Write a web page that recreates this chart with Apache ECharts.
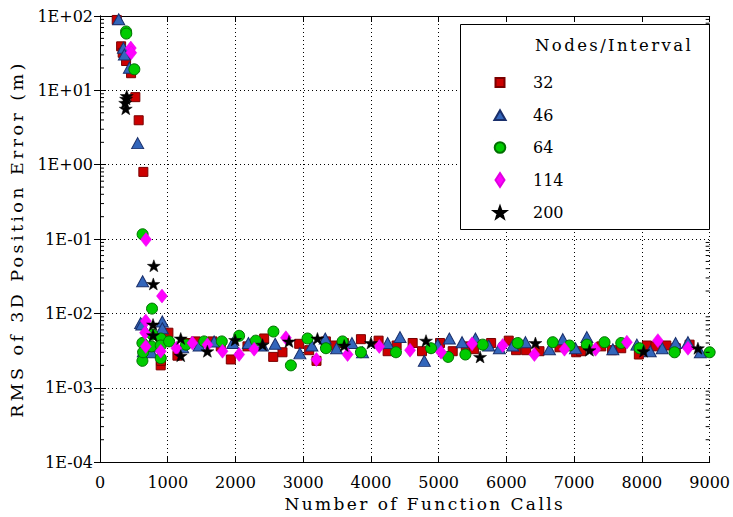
<!DOCTYPE html>
<html><head><meta charset="utf-8">
<script src="https://cdn.jsdelivr.net/npm/echarts@6/dist/echarts.min.js"></script>
<style>
html,body{margin:0;padding:0;background:#fff;}
#c{width:733px;height:517px;}
#c text[style*="17.5px"]{letter-spacing:3.4px;}
#c text[style*="17px"]{letter-spacing:2.4px;}
#c text[style*="16.5px"]{letter-spacing:2.4px;}
</style></head><body><div id="c"></div>
<script>
// ---------- data ----------
const xTicks = [0, 1000, 2000, 3000, 4000, 5000, 6000, 7000, 8000, 9000];
const xTickLabels = ['0', '1000', '2000', '3000', '4000', '5000', '6000', '7000', '8000', '9000'];
const yTickLabels = ['1E-04', '1E-03', '1E-02', '1E-01', '1E+00', '1E+01', '1E+02'];
const seriesNames = ['32', '46', '64', '114', '200'];
const legendTitle = 'Nodes/Interval';
const xAxisTitle = 'Number of Function Calls';
const yAxisTitle = 'RMS of 3D Position Error (m)';

const nodes32 = [
  [247, 88.5], [312, 39.1], [335, 32], [385, 24.8], [459, 17.0], [522, 8.1], [571, 3.96], [640, 0.80],
  [896, 0.0020], [900, 0.0023], [1010, 0.0055], [1143, 0.0027], [1290, 0.0040], [1414, 0.0042],
  [1537, 0.0041], [1660, 0.0042], [1783, 0.0036], [1931, 0.0024], [2177, 0.0036], [2424, 0.0046],
  [2557, 0.0026], [2694, 0.0030], [2941, 0.0039], [3088, 0.0032], [3196, 0.0023], [3335, 0.0042],
  [3458, 0.0037], [3600, 0.0040], [3852, 0.0045], [4113, 0.0043], [4246, 0.0031], [4379, 0.0037],
  [4616, 0.0040], [4754, 0.0031], [5020, 0.0040], [5207, 0.0031], [5400, 0.0036], [5520, 0.0033],
  [5774, 0.0040], [6034, 0.0043], [6143, 0.0032], [6291, 0.0032], [6488, 0.0031], [6783, 0.0035],
  [7030, 0.0030], [7103, 0.0031], [7400, 0.0036], [7560, 0.0032], [7695, 0.0034], [7955, 0.0028],
  [8074, 0.0037], [8200, 0.0036], [8360, 0.0037], [8500, 0.0034], [8704, 0.0038]
];
const nodes46 = [
  [276, 90.4], [346, 37.3], [360, 30.4], [434, 20.2], [556, 1.95], [629, 0.027],
  [600, 0.0074], [616, 0.0071], [920, 0.0078], [920, 0.0063], [749, 0.0036], [640, 0.0031], [760, 0.0030],
  [1220, 0.0035], [1463, 0.0037], [1685, 0.0042], [1960, 0.0040], [2191, 0.0040], [2399, 0.0037],
  [2586, 0.0039], [2951, 0.0029], [3128, 0.0037], [3325, 0.0046], [3492, 0.0034], [3719, 0.0040],
  [3876, 0.0030], [4246, 0.0040], [4429, 0.0048], [4788, 0.0023], [4985, 0.0038], [5157, 0.0046],
  [5345, 0.0041], [5542, 0.0046], [5738, 0.0037], [5896, 0.0034], [6093, 0.0037], [6281, 0.0041],
  [6635, 0.0033], [6832, 0.0045], [7019, 0.0034], [7187, 0.0048], [7571, 0.0033], [7926, 0.0038],
  [8123, 0.0031], [8300, 0.0034], [8497, 0.0040], [8680, 0.0041], [8863, 0.0030]
];
const nodes64 = [
  [385, 61.9], [388, 58], [507, 19.2], [629, 0.116], [768, 0.0116],
  [626, 0.0040], [626, 0.0023], [636, 0.0030], [773, 0.0052], [760, 0.0036], [897, 0.0046],
  [897, 0.0037], [897, 0.0025], [1020, 0.0042], [1270, 0.0038], [1537, 0.0042], [1798, 0.0042],
  [2054, 0.0050], [2300, 0.0043], [2560, 0.0057], [2818, 0.0020], [3064, 0.0046], [3335, 0.0034],
  [3581, 0.0042], [3852, 0.0030], [4369, 0.0030], [4887, 0.0034], [5140, 0.0026], [5394, 0.0028],
  [5650, 0.0038], [6167, 0.0040], [6684, 0.0041], [6931, 0.0037], [7187, 0.0038], [7448, 0.0041],
  [7695, 0.0040], [7965, 0.0034], [8482, 0.0030], [9000, 0.0030]
];
const nodes114 = [
  [455, 37], [461, 32], [679, 0.0984], [915, 0.0171], [675, 0.0079], [665, 0.0055], [675, 0.0036],
  [897, 0.0031], [1128, 0.0034], [1364, 0.0040], [1586, 0.0038], [1808, 0.0031], [2054, 0.0028],
  [2276, 0.0033], [2744, 0.0047], [3195, 0.0024], [3655, 0.0028], [4123, 0.0036], [4577, 0.0032],
  [5035, 0.0030], [5493, 0.0039], [5945, 0.0037], [6413, 0.0028], [6857, 0.0033], [7315, 0.0033],
  [7778, 0.0041], [8236, 0.0043], [8680, 0.0034]
];
const nodes200 = [
  [395, 8.4], [385, 7.7], [372, 6.8], [380, 5.67], [795, 0.0437], [787, 0.0249], [783, 0.0071],
  [783, 0.0051], [1192, 0.0046], [1192, 0.0027], [1585, 0.0031], [1995, 0.0044], [2400, 0.0038],
  [2790, 0.0042], [3210, 0.0046], [3605, 0.0037], [4000, 0.0040], [4813, 0.0043], [5611, 0.0026],
  [6428, 0.0040], [7226, 0.0032], [8024, 0.0031], [8827, 0.0034]
];
// minor log ticks: multipliers within each decade
const minorMultipliers = [2, 3, 4, 5, 6, 7, 8, 9];
const minorDecades = [1e-4, 1e-3, 1e-2, 1e-1, 1, 10];

// ---------- styling ----------
const FONT = 'DejaVu Serif';
const xMin = xTicks[0], xMax = xTicks[xTicks.length - 1];
// legend icons: tiny corner segments pad the bounding box to 14x14
const PAD = 'M0,0L0.01,0M14,14L13.99,14';
const squareIcon = 'path://' + PAD + 'M2.5,2.5L11.5,2.5L11.5,11.5L2.5,11.5Z';
const triIcon = 'path://' + PAD + 'M7,2.2L12.6,12L1.4,12Z';
const circIcon = 'path://' + PAD + 'M1.7,7A5.3,5.3 0 1 1 12.3,7A5.3,5.3 0 1 1 1.7,7Z';
const diamIcon = 'path://M7,0L11.5,7L7,14L2.5,7Z';
const starPts = 'M7,1L8.53,5.4L13.18,5.49L9.47,8.3L10.82,12.76L7,10.1L3.18,12.76L4.53,8.3L0.82,5.49L5.47,5.4Z';
const starIcon = 'path://' + PAD + starPts;
const starSymbol = 'path://' + starPts;

const minorLeft = [], minorRight = [];
minorDecades.forEach(d => minorMultipliers.forEach(m => {
  minorLeft.push([xMin, m * d]);
  minorRight.push([xMax, m * d]);
}));

const chart = echarts.init(document.getElementById('c'), null, {renderer: 'svg', width: 733, height: 517});

function yLabel(v) {
  const e = Math.round(Math.log10(v));
  return yTickLabels[e + 4] || '';
}
function xLabel(v) {
  const i = xTicks.indexOf(Math.round(v));
  return i >= 0 ? xTickLabels[i] : '';
}

const axisLineStyle = {lineStyle: {color: '#000', width: 1}};
const gridLine = {show: true, lineStyle: {color: '#000', width: 1, type: [1, 3]}};
const tickStyle = {inside: true, length: 6, lineStyle: {color: '#000'}};
const minorTickSeries = (name, data, offset) => ({
  name: name, type: 'scatter', data: data, symbol: 'rect', symbolSize: [4, 1],
  symbolOffset: [offset, 0], clip: false, silent: true, z: 3,
  itemStyle: {color: '#000', opacity: 1}, emphasis: {disabled: true}
});

chart.setOption({
  animation: false,
  backgroundColor: '#fff',
  grid: {left: 100, right: 21, top: 16, bottom: 48, containLabel: false},
  xAxis: [{
    type: 'value', min: xMin, max: xMax, interval: 1000, position: 'bottom',
    axisLine: axisLineStyle, axisTick: tickStyle,
    axisLabel: {color: '#000', fontFamily: FONT, fontSize: 16, margin: 12, formatter: xLabel},
    splitLine: gridLine,
    name: xAxisTitle, nameLocation: 'middle', nameGap: 28,
    nameTextStyle: {color: '#000', fontFamily: FONT, fontSize: 17, padding: [0, 0, 0, 40]}
  }, {
    type: 'value', min: xMin, max: xMax, interval: 1000, position: 'top',
    axisLine: axisLineStyle, axisTick: tickStyle,
    axisLabel: {show: false}, splitLine: {show: false}
  }],
  yAxis: [{
    type: 'log', logBase: 10, min: 1e-4, max: 1e2, splitNumber: 6, position: 'left',
    axisLine: axisLineStyle, axisTick: tickStyle,
    axisLabel: {color: '#000', fontFamily: FONT, fontSize: 16, margin: 7, formatter: yLabel},
    splitLine: gridLine,
    name: yAxisTitle, nameLocation: 'middle', nameGap: 64,
    nameTextStyle: {color: '#000', fontFamily: FONT, fontSize: 17.5}
  }, {
    type: 'log', logBase: 10, min: 1e-4, max: 1e2, splitNumber: 6, position: 'right',
    axisLine: axisLineStyle, axisTick: tickStyle,
    axisLabel: {show: false}, splitLine: {show: false}
  }],
  legend: {
    orient: 'vertical', left: 487, top: 69.5, itemWidth: 56, itemHeight: 14, itemGap: 16.5,
    selectedMode: false, z: 20, symbolKeepAspect: true,
    textStyle: {color: '#000', fontFamily: FONT, fontSize: 16, lineHeight: 16},
    data: [
      {name: seriesNames[0], icon: squareIcon},
      {name: seriesNames[1], icon: triIcon},
      {name: seriesNames[2], icon: circIcon},
      {name: seriesNames[3], icon: diamIcon},
      {name: seriesNames[4], icon: starIcon}
    ]
  },
  graphic: [
    {type: 'rect', z: 15, silent: true,
     shape: {x: 460.5, y: 24.5, width: 249, height: 205},
     style: {fill: '#fff', stroke: '#000', lineWidth: 1}},
    {type: 'text', z: 16, silent: true, left: 535, top: 37,
     style: {text: legendTitle, fontFamily: FONT, fontSize: 16.5, fill: '#000'}}
  ],
  series: [
    {name: seriesNames[0], type: 'scatter', data: nodes32, symbol: 'rect', symbolSize: 9,
     itemStyle: {color: '#CC0000', borderColor: '#7A0000', borderWidth: 1, opacity: 1}, emphasis: {disabled: true}},
    {name: seriesNames[1], type: 'scatter', data: nodes46, symbol: 'triangle', symbolSize: [12, 11],
     itemStyle: {color: '#3366BB', borderColor: '#1A2F6B', borderWidth: 1, opacity: 1}, emphasis: {disabled: true}},
    {name: seriesNames[2], type: 'scatter', data: nodes64, symbol: 'circle', symbolSize: 11,
     itemStyle: {color: '#00CC00', borderColor: '#007000', borderWidth: 1, opacity: 1}, emphasis: {disabled: true}},
    {name: seriesNames[3], type: 'scatter', data: nodes114, symbol: 'diamond', symbolSize: [11, 14],
     itemStyle: {color: '#FF00FF', borderColor: '#E000E0', borderWidth: 0.5, opacity: 1}, emphasis: {disabled: true}},
    {name: seriesNames[4], type: 'scatter', data: nodes200, symbol: starSymbol, symbolSize: [13, 12],
     itemStyle: {color: '#000000', borderColor: '#000000', borderWidth: 0.5, opacity: 1}, emphasis: {disabled: true}},
    minorTickSeries('minorLeft', minorLeft, 2),
    minorTickSeries('minorRight', minorRight, -2)
  ]
});
</script></body></html>
